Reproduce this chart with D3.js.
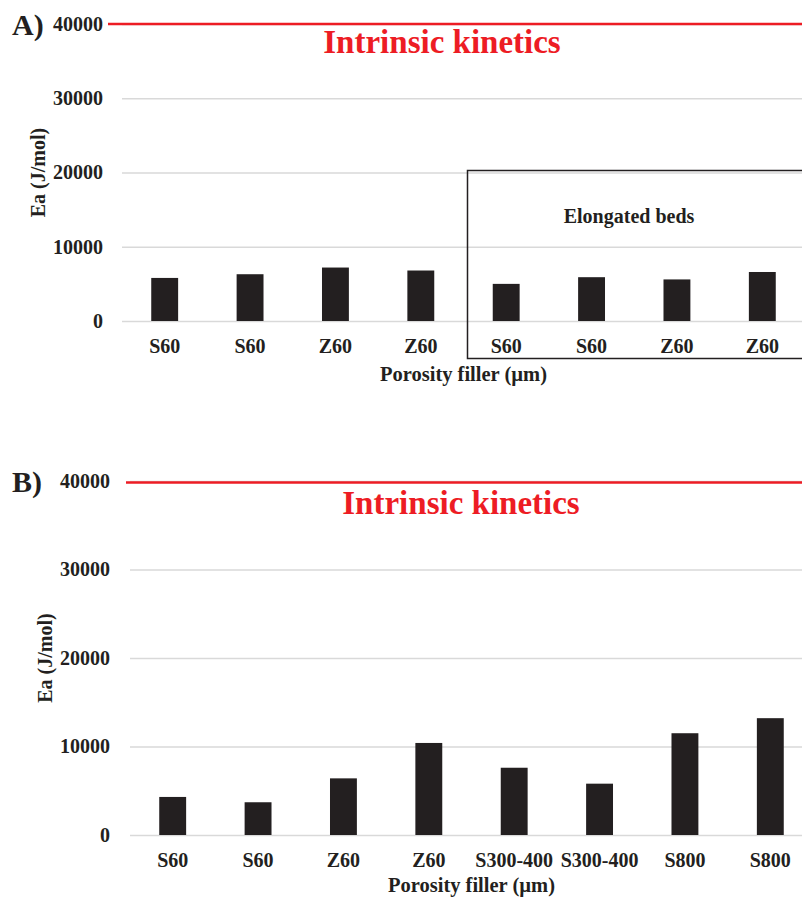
<!DOCTYPE html>
<html>
<head>
<meta charset="utf-8">
<style>
  body { margin: 0; background: #fff; }
  svg text { font-family: "Liberation Serif", "Times New Roman", serif; font-weight: bold; fill: #231f20; }
  .axis text { font-size: 20px; }
  .grid line { stroke: #d9d9d9; stroke-width: 1.3px; }
</style>
</head>
<body>
<div id="chart-area"></div>

<script src="https://cdn.jsdelivr.net/npm/d3@7/dist/d3.min.js"></script>
<script>
    // panel A data
    const categoriesA = ["S60", "S60", "Z60", "Z60", "S60", "S60", "Z60", "Z60"];
    const valuesA = [5800, 6300, 7200, 6800, 5000, 5900, 5600, 6600];
    // panel B data
    const categoriesB = ["S60", "S60", "Z60", "Z60", "S300-400", "S300-400", "S800", "S800"];
    const valuesB = [4300, 3700, 6400, 10400, 7600, 5800, 11500, 13200];
    const yTicks = [0, 10000, 20000, 30000, 40000];

    const width = 802;
    const height = 898;
    const red = "#ed1c24";

    const svg = d3.select("#chart-area")
        .append("svg")
            .attr("width", width)
            .attr("height", height);

    function panel(opts) {
        const cats = opts.cats.map((c, i) => i);
        const x = d3.scaleBand()
            .domain(cats)
            .range([opts.left, opts.right])
            .paddingInner(0.685)
            .paddingOuter(0.3425);
        const y = d3.scaleLinear()
            .domain([0, 40000])
            .range([opts.bottom, opts.top]);

        const g = svg.append("g");

        // y gridlines + labels
        const yAxis = g.append("g")
            .attr("class", "axis grid")
            .attr("transform", `translate(${opts.left},0)`)
            .call(d3.axisLeft(y).tickValues(yTicks).tickFormat(d3.format("d"))
                .tickSizeInner(-(width - opts.left)).tickSizeOuter(0).tickPadding(opts.labelPad));
        yAxis.select(".domain").remove();

        // red 40000 line
        g.append("line")
            .attr("x1", opts.redX).attr("x2", width)
            .attr("y1", y(40000) + opts.redOff).attr("y2", y(40000) + opts.redOff)
            .attr("stroke", red)
            .attr("stroke-width", 2.5);

        // bars
        g.selectAll("rect.bar")
            .data(opts.vals)
            .enter().append("rect")
                .attr("class", "bar")
                .attr("x", (d, i) => x(i))
                .attr("width", x.bandwidth())
                .attr("y", d => y(d))
                .attr("height", d => y(0) - y(d))
                .attr("fill", "#231f20");

        // x labels
        const xAxis = g.append("g")
            .attr("class", "axis")
            .attr("transform", `translate(0,${opts.bottom})`)
            .call(d3.axisBottom(x).tickFormat(i => opts.cats[i]).tickSize(0).tickPadding(18));
        xAxis.select(".domain").remove();

        // titles
        g.append("text")
            .attr("x", opts.titleX).attr("y", opts.titleY)
            .attr("text-anchor", "middle")
            .style("font-size", "33px")
            .style("fill", red)
            .text("Intrinsic kinetics");

        g.append("text")
            .attr("x", (opts.left + opts.right) / 2).attr("y", opts.xTitleY)
            .attr("text-anchor", "middle")
            .style("font-size", "20.5px")
            .text("Porosity filler (\u00b5m)");

        g.append("text")
            .attr("transform", `translate(${opts.yTitleX},${(opts.top + opts.bottom) / 2}) rotate(-90)`)
            .attr("text-anchor", "middle")
            .style("font-size", "20px")
            .text("Ea (J/mol)");

        g.append("text")
            .attr("x", 12).attr("y", opts.letterY)
            .style("font-size", "30px")
            .text(opts.letter);

        return {x, y, g};
    }

    const a = panel({
        cats: categoriesA, vals: valuesA,
        left: 122, right: 805, top: 24, bottom: 321,
        labelPad: 19, redX: 108, redOff: 0,
        titleX: 442, titleY: 53, xTitleY: 381, yTitleX: 45,
        letter: "A)", letterY: 35
    });

    const b = panel({
        cats: categoriesB, vals: valuesB,
        left: 130, right: 813, top: 481, bottom: 835,
        labelPad: 20, redX: 126, redOff: 1.5,
        titleX: 461, titleY: 514, xTitleY: 892, yTitleX: 52,
        letter: "B)", letterY: 492
    });

    // elongated beds box (panel A)
    const boxLeft = (a.x(3) + a.x(4) + a.x.bandwidth()) / 2 + 4;
    a.g.append("rect")
        .attr("x", boxLeft)
        .attr("y", a.y(20000) - 2)
        .attr("width", width - boxLeft + 10)
        .attr("height", 188)
        .attr("fill", "none")
        .attr("stroke", "#231f20")
        .attr("stroke-width", 1.5);

    a.g.append("text")
        .attr("x", 629).attr("y", 223)
        .attr("text-anchor", "middle")
        .style("font-size", "20px")
        .text("Elongated beds");
</script>
</body>
</html>
